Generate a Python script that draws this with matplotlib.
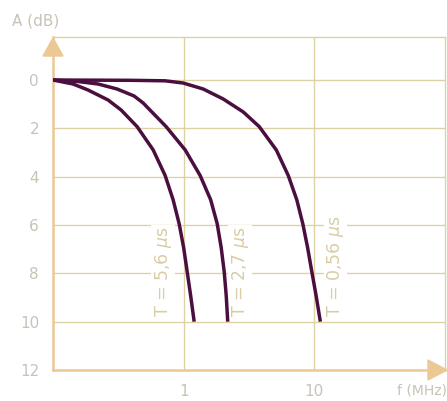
import matplotlib
matplotlib.use('Agg')
import matplotlib.pyplot as plt
from matplotlib.patches import Polygon

# attenuation curves: frequency (MHz) and attenuation (dB)
f_56 = [0.1, 0.1423, 0.1854, 0.2638, 0.332, 0.4402, 0.5839, 0.7213, 0.8308,
        0.9238, 1.0, 1.0637, 1.1315, 1.2035]
a_56 = [0.0, 0.165, 0.413, 0.826, 1.24, 1.93, 2.89, 3.95, 4.96,
        5.95, 6.94, 7.93, 8.93, 10.0]

f_27 = [0.1, 0.1554, 0.2213, 0.3093, 0.4175, 0.4894, 0.5586, 0.7344, 1.027,
        1.338, 1.610, 1.806, 1.938, 2.043, 2.117, 2.174]
a_27 = [0.0, 0.062, 0.165, 0.372, 0.661, 0.95, 1.269, 1.93, 2.893,
        3.955, 4.959, 5.95, 6.942, 7.934, 8.926, 10.0]

f_056 = [0.1, 0.389, 0.7213, 0.991, 1.411, 2.007, 2.858, 3.789, 5.114,
         6.321, 7.342, 8.163, 8.887, 9.568, 10.32, 11.12]
a_056 = [0.0, 0.012, 0.033, 0.124, 0.372, 0.785, 1.322, 1.93, 2.893,
         3.955, 4.959, 5.95, 6.942, 7.934, 8.926, 10.0]

curve_labels = ['T = 5,6 $\\mu$s', 'T = 2,7 $\\mu$s', 'T = 0,56 $\\mu$s']
label_f = [0.697, 2.71, 14.5]

y_ticks = [0, 2, 4, 6, 8, 10, 12]
x_ticks = [1, 10]

W, H = 447, 401
fig = plt.figure(figsize=(W / 100, H / 100), dpi=100)
ax = fig.add_axes([53 / W, 31 / H, 392 / W, 333 / H])

curve_col = '#4b0f3f'
grid_col = '#ddd2a4'
axis_col = '#ecc894'
text_col = '#c9c3b6'
label_col = '#d8cda4'

ax.set_xscale('log')
ax.set_xlim(0.1, 100)
ax.set_ylim(12, -1.78)

for y in y_ticks[:-1]:
    ax.axhline(y, color=grid_col, lw=1, zorder=1)
for x in x_ticks:
    ax.axvline(x, color=grid_col, lw=1, zorder=1)

for fx, ay in [(f_56, a_56), (f_27, a_27), (f_056, a_056)]:
    ax.plot(fx, ay, color=curve_col, lw=2.5, solid_capstyle='butt',
            solid_joinstyle='round', zorder=4)

for lab, lf in zip(curve_labels, label_f):
    ax.text(lf, 9.8, lab, rotation=90, ha='center', va='bottom', fontsize=12.5,
            color=label_col, zorder=3,
            bbox=dict(facecolor='white', edgecolor='none', pad=1))

ax.set_yticks(y_ticks)
ax.set_yticklabels([str(v) for v in y_ticks])
ax.set_xticks(x_ticks)
ax.set_xticklabels(['1', '10'])
ax.minorticks_off()
ax.tick_params(axis='y', length=0, pad=10, labelsize=11, labelcolor=text_col)
ax.tick_params(axis='x', length=0, pad=10, labelsize=11, labelcolor=text_col)

for side in ['left', 'bottom']:
    ax.spines[side].set_color(axis_col)
    ax.spines[side].set_linewidth(1.8)
for side in ['top', 'right']:
    ax.spines[side].set_color(grid_col)
    ax.spines[side].set_linewidth(1)


def px(x, y):
    return (x / W, 1 - y / H)


# arrow heads on both axes
fig.patches.append(Polygon([px(53, 38), px(43, 56), px(63, 56)], closed=True,
                           transform=fig.transFigure, color=axis_col, zorder=5))
fig.patches.append(Polygon([px(447, 370), px(428, 360), px(428, 380)], closed=True,
                           transform=fig.transFigure, color=axis_col, zorder=5))

fig.text(12 / W, 1 - 21 / H, 'A (dB)', ha='left', va='center', fontsize=11, color=text_col)
fig.text(397 / W, 1 - 391 / H, 'f (MHz)', ha='left', va='center', fontsize=10, color=text_col)

fig.savefig('out.png', dpi=100)
